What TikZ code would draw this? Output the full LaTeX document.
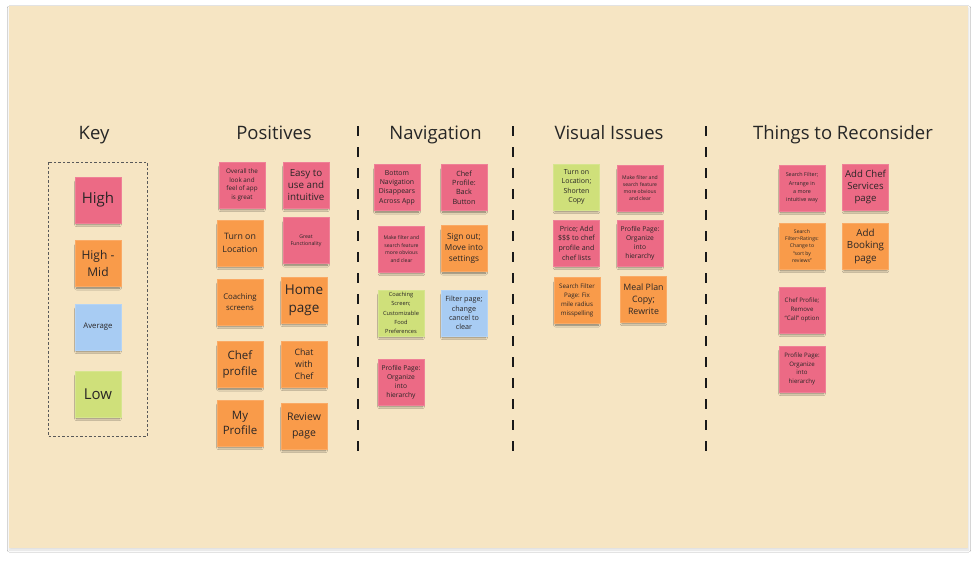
\documentclass[tikz,border=0pt]{standalone}
\usepackage{fontspec}
\setmainfont{Open Sans}
\usetikzlibrary{shadows,shadows.blur}
\definecolor{board}{HTML}{F6E5C3}
\definecolor{npink}{HTML}{EC6A85}
\definecolor{norange}{HTML}{F99B4A}
\definecolor{nblue}{HTML}{A8CCF3}
\definecolor{ngreen}{HTML}{CFE07A}
\definecolor{ntext}{HTML}{2A2626}
\tikzset{
  note/.style={minimum width=46pt, minimum height=46pt, inner sep=1pt, align=center,
    text=ntext, draw=#1!85!white, line width=0.4pt, fill=#1,
    blur shadow={shadow xshift=0pt, shadow yshift=-3.5pt, shadow scale=0.93, shadow opacity=50, shadow blur steps=6}},
  fz/.style 2 args={font=\fontsize{#1}{#2}\selectfont},
  title/.style={font=\fontsize{18.5}{22}\selectfont, text=black!85, anchor=base, inner sep=0pt},
  divider/.style={line width=2.6pt, draw=black!90, dash pattern=on 10pt off 11pt},
  keybox/.style={draw=black!65, line width=0.7pt, dash pattern=on 2.5pt off 2pt},
}
\begin{document}
\begin{tikzpicture}[x=1pt,y=-1pt]
\useasboundingbox (0,0) rectangle (977,560);
\fill[white] (0,0) rectangle (977,560);
\fill[board, blur shadow={shadow xshift=0.5pt, shadow yshift=-2pt, shadow opacity=14, shadow blur steps=8}] (9,6) rectangle (968,548);

% titles
\node[title] (tkey) at (94,139) {Key};
\node[title] (tpos) at (274,139) {Positives};
\node[title] (tnav) at (435.5,139) {Navigation};
\node[title] (tvis) at (609,139) {Visual Issues};
\node[title] (tthi) at (843,139) {Things to Reconsider};

% dividers
\coordinate (d1a) at (358,126); \coordinate (d1b) at (358,452);
\coordinate (d2a) at (513,126); \coordinate (d2b) at (513,452);
\coordinate (d3a) at (706,126); \coordinate (d3b) at (706,452);
\draw[divider] (d1a) -- (d1b);
\draw[divider] (d2a) -- (d2b);
\draw[divider] (d3a) -- (d3b);

% key
\draw[keybox] (48,162) rectangle (147,436);
\node[note=npink, fz={15}{17}] (khigh) at (98,200) {High};
\node[note=norange, fz={12}{17.5}] (khm) at (98,263.5) {High -\\Mid};
\node[note=nblue, fz={7.8}{9}] (kavg) at (98,327) {Average};
\node[note=ngreen, fz={15}{17}] (klow) at (98,394) {Low};

% positives
\node[note=npink, fz={6.3}{8.6}] (p1) at (242,185) {Overall the\\look and\\feel of app\\is great};
\node[note=npink, fz={9.8}{12.3}] (p2) at (306,185) {Easy to\\use and\\intuitive};
\node[note=norange, fz={8.8}{12.3}] (p3) at (240,243) {Turn on\\Location};
\node[note=npink, fz={5.2}{7.2}] (p4) at (306,240.5) {Great\\Functionality};
\node[note=norange, fz={7.8}{11.5}] (p5) at (240,302) {Coaching\\screens};
\node[note=norange, fz={13.5}{18}] (p6) at (304,300) {Home\\page};
\node[note=norange, fz={11.5}{15.5}] (p7) at (240,364.5) {Chef\\profile};
\node[note=norange, fz={8.8}{12.3}] (p8) at (304,364) {Chat\\with\\Chef};
\node[note=norange, fz={11.5}{15.5}] (p9) at (240,423) {My\\Profile};
\node[note=norange, fz={10.5}{15.5}] (p10) at (304,426) {Review\\page};

% navigation
\node[note=npink, fz={6.9}{9.4}] (n1) at (397,187.5) {Bottom\\Navigation\\Disappears\\Across App};
\node[note=npink, fz={7.2}{9.4}] (n2) at (464,187.5) {Chef\\Profile:\\Back\\Button};
\node[note=npink, fz={5.1}{7.5}] (n3) at (401.5,249) {Make filter and\\search feature\\more obvious\\and clear};
\node[note=norange, fz={8.3}{11.2}] (n4) at (464,248.5) {Sign out;\\Move into\\settings};
\node[note=ngreen, fz={5.7}{9.2}] (n5) at (401,313) {Coaching\\Screen;\\Customizable\\Food\\Preferences};
\node[note=nblue, fz={7.2}{9.4}] (n6) at (464,313) {Filter page;\\change\\cancel to\\clear};
\node[note=npink, fz={6.7}{9}] (n7) at (401,382) {Profile Page:\\Organize\\into\\hierarchy};

% visual issues
\node[note=ngreen, fz={7}{9.4}] (v1) at (576.5,187) {Turn on\\Location;\\Shorten\\Copy};
\node[note=npink, fz={5.1}{7.2}] (v2) at (640,188) {Make filter and\\search feature\\more obvious\\and clear};
\node[note=npink, fz={7.1}{9.6}] (v3) at (576.5,243) {Price; Add\\\$\$\$ to chef\\profile and\\chef lists};
\node[note=npink, fz={6.7}{9}] (v4) at (640,243) {Profile Page:\\Organize\\into\\hierarchy};
\node[note=norange, fz={6.2}{8.9}] (v5) at (577,300.5) {Search Filter\\Page: Fix\\mile radius\\misspelling};
\node[note=norange, fz={8.8}{11.7}] (v6) at (643.5,299) {Meal Plan\\Copy;\\Rewrite};

% things to reconsider
\node[note=npink, fz={5.4}{8.3}] (t1) at (802,188) {Search Filter;\\Arrange in\\a more\\intuitive way};
\node[note=npink, fz={9.6}{12.2}] (t2) at (865.5,187) {Add Chef\\Services\\page};
\node[note=norange, fz={5.1}{7.2}] (t3) at (802,246) {Search\\Filter>Ratings:\\Change to\\``sort by\\reviews''};
\node[note=norange, fz={9.8}{12.5}] (t4) at (865.5,246) {Add\\Booking\\page};
\node[note=npink, fz={6.1}{8.7}] (t5) at (802,310) {Chef Profile;\\Remove\\``Call'' option};
\node[note=npink, fz={6.1}{8.6}] (t6) at (802,369) {Profile Page:\\Organize\\into\\hierarchy};
\end{tikzpicture}
\end{document}
